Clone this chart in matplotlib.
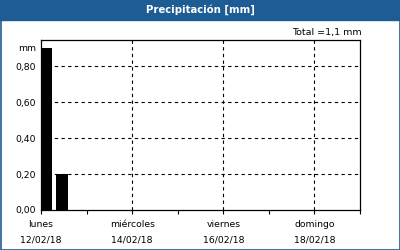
import matplotlib
matplotlib.use("Agg")
import matplotlib.pyplot as plt
from matplotlib.patches import Rectangle
from datetime import datetime, timedelta

# data
bar_times = [datetime(2018, 2, 12, 3), datetime(2018, 2, 12, 11)]
bar_values = [0.90, 0.20]
tick_days = [datetime(2018, 2, 12) + timedelta(days=i) for i in range(8)]
label_days = ["lunes", "", "miércoles", "", "viernes", "", "domingo", ""]
y_ticks = [0.0, 0.2, 0.4, 0.6, 0.8]
total_text = "Total =1,1 mm"
title = "Precipitación [mm]"

blue = "#1e5d94"

fig = plt.figure(figsize=(4, 2.5), dpi=100)
fig.patch.set_facecolor("white")

# header band and outer border
fig.patches.append(Rectangle((0, 1 - 20 / 250), 1, 20 / 250,
                             transform=fig.transFigure, color=blue, zorder=0))
fig.patches.append(Rectangle((0.5 / 400, 0.5 / 250), 1 - 1 / 400, 1 - 1 / 250,
                             transform=fig.transFigure, fill=False,
                             edgecolor=blue, linewidth=1.2, zorder=5))
fig.text(0.5, 1 - 10 / 250, title, ha="center", va="center",
         color="white", fontsize=7.3, weight="bold")

ax = fig.add_axes([41 / 400, 1 - 210 / 250, 319 / 400, 170 / 250])

ax.bar(bar_times, bar_values, width=0.25, color="black", align="center", zorder=3)

ax.set_xlim(tick_days[0], tick_days[-1])
ax.set_ylim(0, 0.945)

ax.set_xticks(tick_days)
ax.set_xticklabels([
    f"{n}\n{d.strftime('%d/%m/%y')}" if n else ""
    for n, d in zip(label_days, tick_days)
], fontsize=6.7, linespacing=1.9)
ax.tick_params(axis="x", direction="out", length=3, width=0.8, pad=4)

ax.set_yticks(y_ticks)
ax.set_yticklabels([f"{v:.2f}".replace(".", ",") for v in y_ticks], fontsize=6.7)
ax.tick_params(axis="y", length=0, pad=4)

for v in y_ticks[1:]:
    ax.axhline(v, color="black", linestyle=(0, (3, 3)), linewidth=0.8, zorder=1)
for d in tick_days[2:-1:2]:
    ax.axvline(d, color="black", linestyle=(0, (3, 3)), linewidth=0.8, zorder=1)

for s in ax.spines.values():
    s.set_linewidth(0.9)

ax.text(-0.015, 0.95, "mm", transform=ax.transAxes, ha="right", va="center",
        fontsize=6.7)
fig.text(362 / 400, 1 - 32 / 250, total_text, ha="right", va="center",
         fontsize=6.8)

fig.savefig("out.png", dpi=100)
